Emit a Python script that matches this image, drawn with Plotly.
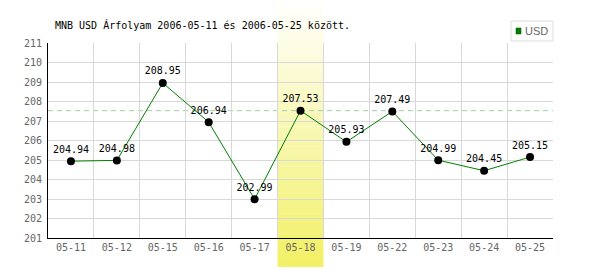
import plotly.graph_objects as go

dates = ["05-11", "05-12", "05-15", "05-16", "05-17", "05-18", "05-19", "05-22", "05-23", "05-24", "05-25"]
usd = [204.94, 204.98, 208.95, 206.94, 202.99, 207.53, 205.93, 207.49, 204.99, 204.45, 205.15]
highlight_index = 5
title_text = "MNB USD Árfolyam 2006-05-11 és 2006-05-25 között."
series_name = "USD"

mono = "DejaVu Sans Mono"

fig = go.Figure()
fig.add_trace(go.Scatter(
    x=dates, y=usd, mode="lines+markers+text",
    line=dict(color="#008000", width=1),
    marker=dict(color="black", size=8),
    text=[f"{v:.2f}" for v in usd], textposition="top center",
    textfont=dict(family=mono, size=10, color="black"),
    showlegend=False, cliponaxis=False,
))

shapes = []
# gradient highlight band
n = 40
y_top, y_bot = 1.2205, -0.1487
c0 = (255, 255, 255)
c1 = (242, 240, 100)
for i in range(n):
    t = (i + 0.5) / n
    col = tuple(round(c0[k] + (c1[k] - c0[k]) * t) for k in range(3))
    ya = y_top + (y_bot - y_top) * i / n
    yb = y_top + (y_bot - y_top) * (i + 1) / n
    shapes.append(dict(type="rect", xref="x", yref="paper",
                       x0=highlight_index - 0.5, x1=highlight_index + 0.5,
                       y0=yb, y1=ya + 0.002, line=dict(width=0),
                       fillcolor="rgb(%d,%d,%d)" % col, layer="between"))
# reference dashed line at highlighted value
shapes.append(dict(type="line", xref="paper", yref="y", x0=0, x1=1,
                   y0=usd[highlight_index], y1=usd[highlight_index],
                   line=dict(color="#a3cfa3", width=1, dash="5px,4px"), layer="between"))
# legend box
shapes.append(dict(type="rect", xref="paper", yref="paper",
                   x0=(511 - 48) / 505, x1=(553 - 48) / 505,
                   y0=(238 - 41) / 195, y1=(238 - 21) / 195,
                   line=dict(color="#dddddd", width=1), fillcolor="white", layer="above"))
shapes.append(dict(type="rect", xref="paper", yref="paper",
                   x0=(516 - 48) / 505, x1=(521 - 48) / 505,
                   y0=(238 - 34) / 195, y1=(238 - 28) / 195,
                   line=dict(color="#004400", width=0.5), fillcolor="#008000", layer="above"))

annotations = [
    dict(text=title_text, xref="paper", yref="paper", x=(53 - 48) / 505, y=(238 - 25) / 195,
         xanchor="left", yanchor="middle", showarrow=False,
         font=dict(family=mono, size=10, color="black")),
    dict(text=series_name, xref="paper", yref="paper", x=(523 - 48) / 505, y=(238 - 31) / 195,
         xanchor="left", yanchor="middle", showarrow=False,
         font=dict(family="Liberation Sans Narrow, Liberation Sans", size=11, color="#666666")),
]

fig.update_layout(
    width=600, height=270,
    margin=dict(l=48, r=47, t=43, b=32),
    paper_bgcolor="white", plot_bgcolor="white",
    shapes=shapes, annotations=annotations,
    xaxis=dict(type="category", tickson="boundaries", showgrid=True, gridcolor="#d8d8d8",
               gridwidth=1, showline=True, linecolor="black", linewidth=1, ticks="",
               tickfont=dict(family=mono, size=10, color="#666666"), zeroline=False,
               range=[-0.5, len(dates) - 0.5], fixedrange=True),
    yaxis=dict(range=[201, 211], dtick=1, showgrid=True, gridcolor="#d8d8d8", gridwidth=1,
               showline=True, linecolor="black", linewidth=1, ticks="", zeroline=False,
               tickfont=dict(family=mono, size=10, color="#666666"), ticklabelstandoff=3),
)

fig.write_html("out.html")
